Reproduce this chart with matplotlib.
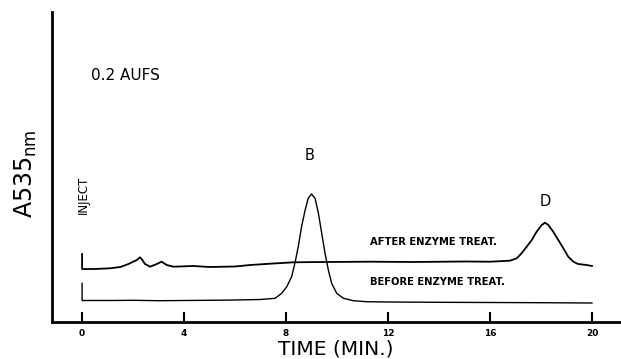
import numpy as np
import matplotlib
matplotlib.use("Agg")
import matplotlib.pyplot as plt

# chromatogram traces (time in min, height in arbitrary absorbance units)
after_time = [0, 0, 0.5, 1.1, 1.5, 1.82, 2.0, 2.15, 2.27, 2.35, 2.47, 2.67, 2.93, 3.12,
              3.32, 3.58, 4.37, 5.0, 6.0, 6.6, 7.5, 8.3, 9.5, 11.3, 13.0, 15.0, 16.0,
              16.78, 17.05, 17.24, 17.44, 17.64, 17.83, 18.03, 18.16, 18.29, 18.48,
              18.68, 18.88, 19.07, 19.27, 19.46, 19.79, 20.0]
after_abs = [68, 53, 53, 53.7, 55, 58, 60.3, 62, 64.7, 62.5, 58, 55.3, 58, 60.3,
             57, 55.3, 56, 55, 55.5, 57, 58.5, 59.7, 60, 60.3, 60, 60.5, 60.3,
             61.3, 63.7, 68.7, 75.3, 82, 90.3, 97, 99.3, 97, 90.3,
             82, 73.7, 65.3, 60.3, 58, 57, 56]

before_time = [0, 0, 1, 2, 3, 4, 5, 6, 7, 7.57, 7.83, 8.03, 8.22, 8.35, 8.48, 8.61,
               8.75, 8.87, 9.0, 9.14, 9.27, 9.4, 9.53, 9.66, 9.79, 9.99, 10.25, 10.64,
               11.16, 12, 14, 16, 18, 20]
before_abs = [38.7, 21.5, 21.5, 21.7, 21.3, 21.5, 21.7, 22, 22.5, 23.7, 28.7, 35.3,
              45.3, 59, 75.3, 95.3, 112, 123.7, 128, 123.7, 108.7, 88.7, 68.7, 52,
              38.7, 28.7, 23.7, 21.3, 20.3, 20, 19.7, 19.5, 19.3, 19]

time_ticks = [0, 4, 8, 12, 16, 20]

fig = plt.figure(figsize=(6.21, 3.59), dpi=100)
ax = fig.add_axes([52 / 621, 1 - 322 / 359, 569 / 621, 310 / 359])

ax.plot(after_time, after_abs, color="black", lw=1.3)
ax.plot(before_time, before_abs, color="black", lw=1.0)

ax.set_xlim(-1.18, 21.14)
ax.set_ylim(0, 310)

for s in ["top", "right"]:
    ax.spines[s].set_visible(False)
for s in ["left", "bottom"]:
    ax.spines[s].set_linewidth(2)

ax.set_xticks(time_ticks)
ax.set_xticklabels([str(t) for t in time_ticks], fontsize=6.5, fontweight="bold")
ax.tick_params(axis="x", direction="in", length=7, width=1.5, pad=5)
ax.set_yticks([])

# labels on the trace
ax.text(0.35, 247, "0.2 AUFS", fontsize=11, ha="left", va="center")
ax.text(0.04, 127, "INJECT", fontsize=8.5, rotation=90, ha="center", va="center")
ax.text(8.94, 167, "B", fontsize=10.5, ha="center", va="center")
ax.text(18.16, 121, "D", fontsize=10.5, ha="center", va="center")
ax.text(11.29, 80, "AFTER ENZYME TREAT.", fontsize=7.2, fontweight="bold",
        ha="left", va="center")
ax.text(11.29, 40, "BEFORE ENZYME TREAT.", fontsize=7.2, fontweight="bold",
        ha="left", va="center")

fig.text(336 / 621, 1 - 349 / 359, "TIME (MIN.)", fontsize=14.5, ha="center", va="center")
fig.text(26 / 621, 1 - 174 / 359, r"A535$_{\rm nm}$", fontsize=17, rotation=90,
         ha="center", va="center")

plt.savefig("out.png", dpi=100)
plt.close()
